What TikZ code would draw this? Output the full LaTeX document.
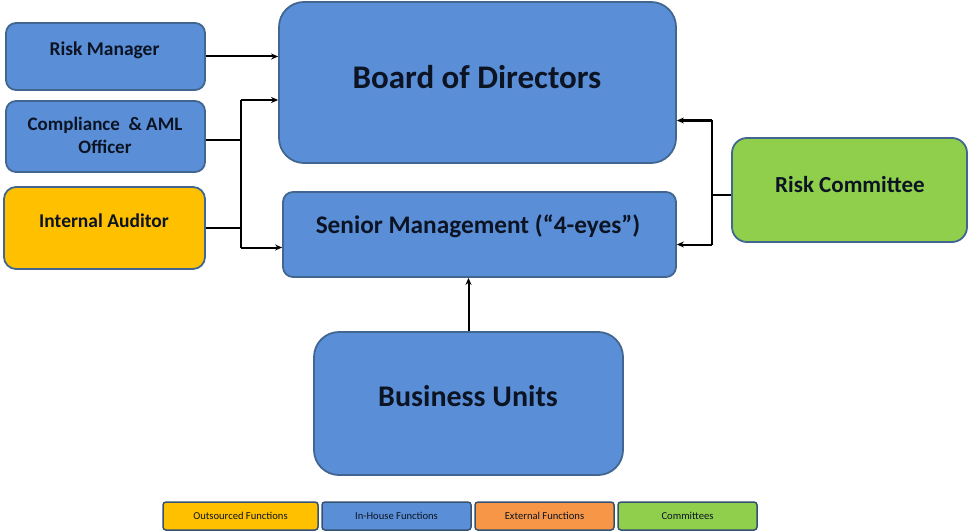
\documentclass[tikz,border=0pt]{standalone}
\usepackage{fontspec}
\setmainfont{Carlito}
\usetikzlibrary{arrows.meta}
\definecolor{inhouse}{HTML}{5A8FD7}
\definecolor{outsourced}{HTML}{FFC000}
\definecolor{external}{HTML}{F79646}
\definecolor{committee}{HTML}{8FCF4C}
\definecolor{edge}{HTML}{41668F}
\definecolor{ink}{HTML}{0C1424}
\tikzset{
  box/.style={draw=edge, line width=1.8pt, rounded corners=#1, fill=inhouse,
    inner sep=0pt},
  caption/.style={text=ink, inner sep=0pt, align=center,
    font=\bfseries\fontsize{#1}{#1}\selectfont},
  legendbox/.style={draw=edge!80!black, line width=1.5pt, rounded corners=3pt,
    text=ink, inner sep=0pt, minimum height=28pt,
    font=\fontsize{10.6}{12}\selectfont},
  arr/.style={line width=2pt, -{Stealth[length=7pt,width=6pt]}},
  link/.style={line width=2pt}
}
\begin{document}
\begin{tikzpicture}[x=1pt,y=-1pt]
\useasboundingbox (0,0) rectangle (968,532);

% left column of functions
\node[box=10pt, minimum width=199pt, minimum height=67pt] (rm) at (105.5,56.5) {};
\node[caption=19.5] (rmt) at (104.5,50) {Risk Manager};
\node[box=10pt, minimum width=199pt, minimum height=71pt] (co) at (105.5,136.5) {};
\node[caption=19, font=\bfseries\fontsize{19}{23}\selectfont] (cot) at (105,135) {Compliance \ \& AML\\Officer};
\node[box=12pt, fill=outsourced, minimum width=201pt, minimum height=82pt] (ia) at (104.5,228) {};
\node[caption=19.5] (iat) at (104,221) {Internal Auditor};

% governance bodies
\node[box=25pt, minimum width=397pt, minimum height=161pt] (bd) at (477.5,82.5) {};
\node[caption=33] (bdt) at (477,77) {Board of Directors};
\node[box=10pt, minimum width=393pt, minimum height=85pt] (sm) at (479.5,234.5) {};
\node[caption=25.3] (smt) at (478,226) {Senior Management (“4-eyes”)};
\node[box=15pt, fill=committee, minimum width=235pt, minimum height=104pt] (rc) at (849.5,190) {};
\node[caption=23] (rct) at (850,185) {Risk Committee};
\node[box=25pt, minimum width=309pt, minimum height=143pt] (bu) at (468.5,403.5) {};
\node[caption=30] (but) at (468,396) {Business Units};

% reporting lines
\coordinate (jtop) at (240.5,100);
\coordinate (jbot) at (240.5,247.5);
\coordinate (ktop) at (712,120.5);
\coordinate (kbot) at (712,244.5);

\draw[arr] (rm.east) -- (rm.east -| bd.west);
\draw[link] ([yshift=-3pt]co.east) -- ([yshift=-3pt]co.east -| jtop);
\draw[link] (ia.east) -- (ia.east -| jtop);
\draw[link] (jtop) -- (jbot);
\draw[arr] (jtop) -- (jtop -| bd.west);
\draw[arr] (jbot) -- (jbot -| sm.west);

\draw[link] ([yshift=-5pt]rc.west) -- ([yshift=-5pt]rc.west -| ktop);
\draw[link] (ktop) -- (kbot);
\draw[arr] (ktop) -- (ktop -| bd.east);
\draw[arr] (kbot) -- (kbot -| sm.east);

\draw[arr] (bu.north) -- (bu.north |- sm.south);

% legend
\node[legendbox, fill=outsourced, minimum width=155pt] (lo) at (240.5,516) {Outsourced Functions};
\node[legendbox, fill=inhouse, minimum width=149pt] (li) at (396.5,516) {In-House Functions};
\node[legendbox, fill=external, minimum width=139pt] (le) at (544.5,516) {External Functions};
\node[legendbox, fill=committee, minimum width=139pt] (lc) at (687.5,516) {Committees};
\end{tikzpicture}
\end{document}
